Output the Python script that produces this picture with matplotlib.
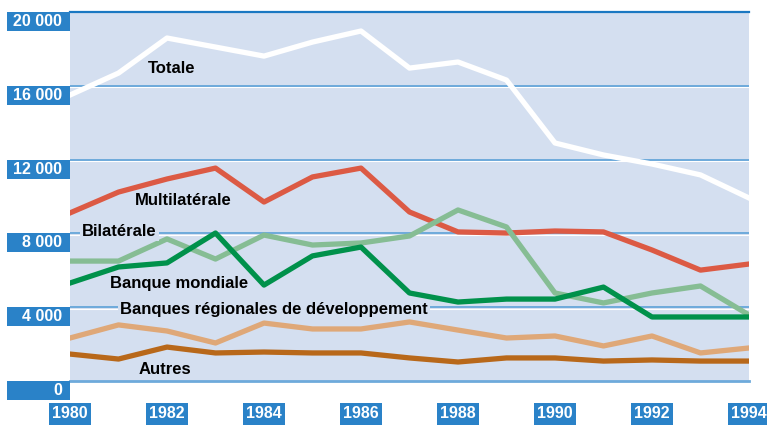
import matplotlib.pyplot as plt
from matplotlib.patches import Rectangle

plt.rcParams['font.family'] = ['Liberation Sans', 'DejaVu Sans']

years = list(range(1980, 1995))
totale = [15500, 16690, 18590, 18100, 17610, 18370, 18970, 16960, 17290, 16310,
          12900, 12250, 11760, 11170, 9920]
multilaterale = [9110, 10240, 10950, 11540, 9700, 11060, 11540, 9160, 8080, 8020,
                 8130, 8080, 7100, 6010, 6340]
bilaterale = [6500, 6500, 7700, 6610, 7910, 7370, 7480, 7860, 9270, 8350,
              4770, 4230, 4770, 5150, 3580]
banque_mondiale = [5310, 6180, 6400, 8020, 5200, 6780, 7260, 4770, 4280, 4440,
                   4440, 5090, 3470, 3470, 3470]
regionales = [2330, 3040, 2710, 2060, 3140, 2820, 2820, 3200, 2760, 2330,
              2440, 1900, 2440, 1520, 1790]
autres = [1460, 1190, 1840, 1520, 1570, 1520, 1520, 1250, 1030, 1250,
          1250, 1080, 1140, 1080, 1080]

yticks = [0, 4000, 8000, 12000, 16000, 20000]
ytick_labels = ['0', '4 000', '8 000', '12 000', '16 000', '20 000']
xticks = [1980, 1982, 1984, 1986, 1988, 1990, 1992, 1994]

bg = '#d4dff0'
box_blue = '#2a82c8'
grid_blue = '#6eaadb'

fig = plt.figure(figsize=(7.67, 4.26), dpi=100)
ax = fig.add_axes([70 / 767, 1 - 381 / 426, 679 / 767, 369 / 426])
ax.set_facecolor(bg)
ax.set_xlim(1980, 1994)
ax.set_ylim(0, 20000)
for s in ['left', 'right', 'bottom', 'top']:
    ax.spines[s].set_visible(False)
ax.set_xticks([])
ax.set_yticks([])

# gridlines: blue line with thin white line below
px = 20000 / 369
for v in yticks[1:-1]:
    ax.axhline(v - 1.6 * px, color='white', lw=0.8, zorder=1)
    ax.axhline(v, color=grid_blue, lw=1.4, zorder=1)
ax.axhline(20000, color='#1a78c2', lw=1.6, zorder=1, clip_on=False)
ax.axhline(0, color=grid_blue, lw=2.0, zorder=1, clip_on=False)

lw = 3.8
ax.plot(years, totale, color='white', lw=lw, zorder=3)
ax.plot(years, multilaterale, color='#dc5a44', lw=lw, zorder=3)
ax.plot(years, bilaterale, color='#86bd94', lw=lw, zorder=3)
ax.plot(years, banque_mondiale, color='#00914b', lw=lw, zorder=3)
ax.plot(years, regionales, color='#dfa878', lw=lw, zorder=3)
ax.plot(years, autres, color='#b8681a', lw=lw, zorder=3)

# series labels
labels = [
    ('Totale', 1981.61, 16960),
    ('Multilatérale', 1981.34, 9810),
    ('Bilatérale', 1980.25, 8080),
    ('Banque mondiale', 1980.82, 5260),
    ('Banques régionales de développement', 1981.03, 3850),
    ('Autres', 1981.42, 650),
]
for text, x, y in labels:
    ax.text(x, y, text, fontsize=12, fontweight='bold', color='black',
            va='center', ha='left', zorder=4,
            bbox=dict(boxstyle='square,pad=0.12', fc=bg, ec='none'))

# y tick boxes
box_h = 19 * px
for v, lab in zip(yticks, ytick_labels):
    r = Rectangle((-63 / 679, v - box_h), 63 / 679, box_h,
                  transform=ax.get_yaxis_transform(), fc=box_blue, ec='none',
                  clip_on=False, zorder=5)
    ax.add_patch(r)
    ax.text(-8 / 679, v - box_h / 2, lab, transform=ax.get_yaxis_transform(),
            ha='right', va='center', color='white', fontsize=11.5,
            fontweight='bold', clip_on=False, zorder=6)

# x tick boxes
for yr in xticks:
    ax.text(yr, -(414 - 381) * px, str(yr), ha='center', va='center',
            color='white', fontsize=11.5, fontweight='bold', clip_on=False,
            bbox=dict(boxstyle='square,pad=0.2', fc=box_blue, ec='none'))

fig.savefig('out.png', dpi=100)
